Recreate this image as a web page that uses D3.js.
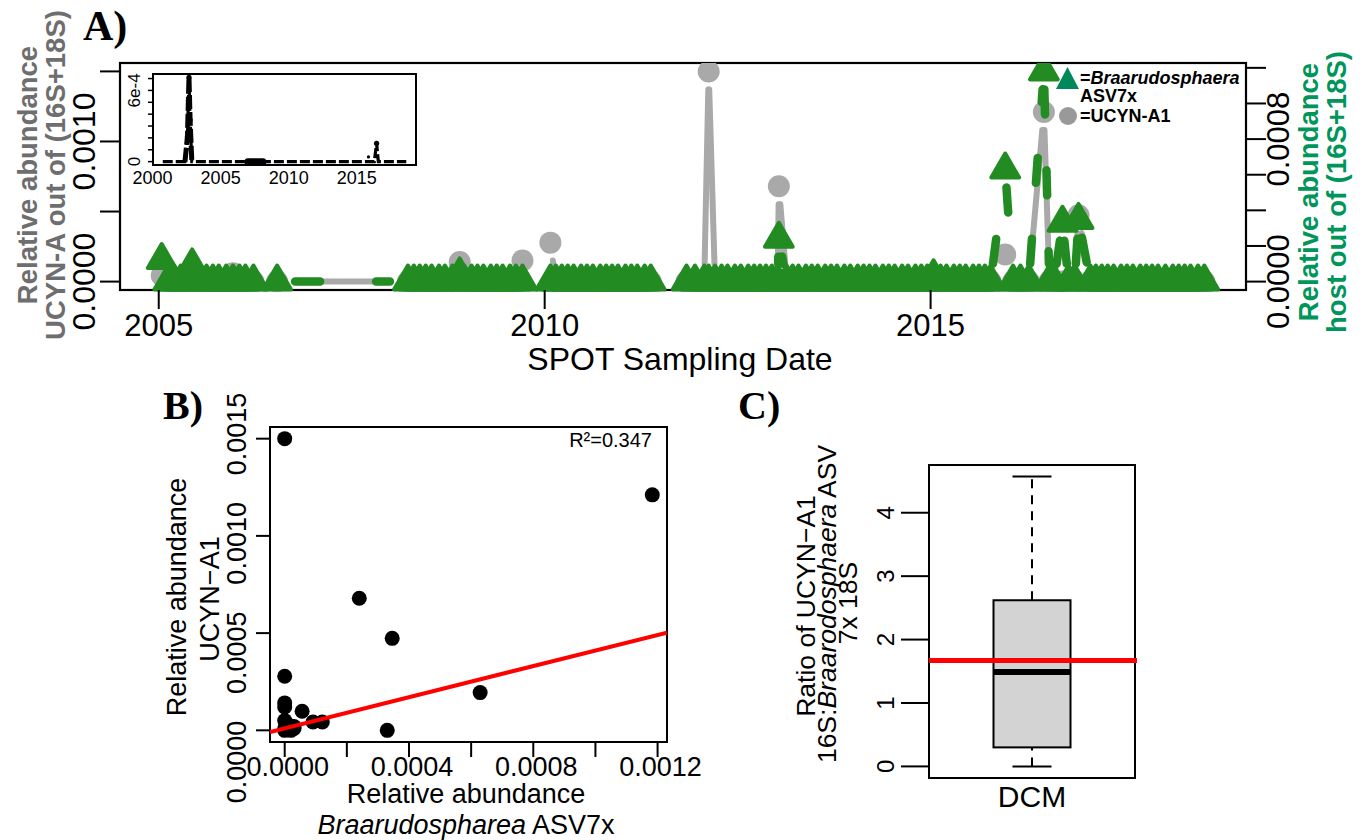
<!DOCTYPE html>
<html>
<head>
<meta charset="utf-8">
<script src="https://cdn.jsdelivr.net/npm/d3@7"></script>
<style>
  body { margin: 0; background: #fff; }
  text { font-family: "Liberation Sans", Arial, sans-serif; }
</style>
</head>
<body>
<svg id="fig" width="1365" height="840"></svg>
<script>
// ---------- Panel A: SPOT time series ----------
const sampleDates = [
  "2005-01-15","2005-02-15","2005-03-15","2005-04-15","2005-05-12","2005-06-08","2005-07-13","2005-08-15","2005-09-14","2005-10-12","2005-11-16","2005-12-18",
  "2006-01-18","2006-02-15","2006-03-25","2006-07-15",
  "2008-03-25","2008-04-22","2008-05-20","2008-06-17","2008-07-15","2008-08-19","2008-09-16","2008-10-21","2008-11-25","2008-12-16",
  "2009-01-20","2009-02-17","2009-03-17","2009-04-21","2009-05-19","2009-06-16","2009-07-21","2009-08-18","2009-09-18",
  "2010-01-28","2010-02-23","2010-03-23","2010-04-20","2010-05-18","2010-06-22","2010-07-20","2010-08-17","2010-09-21","2010-10-19","2010-11-16","2010-12-14",
  "2011-01-18","2011-02-15","2011-03-15","2011-04-19","2011-05-18","2011-11-03","2011-12-13",
  "2012-01-26","2012-02-16","2012-03-17","2012-04-17","2012-05-15","2012-06-19","2012-07-17","2012-08-21","2012-09-18","2012-10-16","2012-11-13","2012-12-11",
  "2013-01-07","2013-01-13","2013-02-19","2013-03-19","2013-04-16","2013-05-21","2013-06-18","2013-07-16","2013-08-20","2013-09-17","2013-10-15","2013-11-19","2013-12-17",
  "2014-01-21","2014-02-18","2014-03-18","2014-04-15","2014-05-20","2014-06-17","2014-07-15","2014-08-19","2014-09-16","2014-10-21","2014-11-18","2014-12-16",
  "2015-01-15","2015-02-17","2015-03-17","2015-04-21","2015-05-19","2015-06-16","2015-07-21","2015-08-18","2015-09-15","2015-10-12","2015-12-20",
  "2016-01-26","2016-03-01","2016-04-10","2016-06-20","2016-07-16","2016-08-07","2016-09-16","2016-10-15","2016-11-13","2016-12-01",
  "2017-01-26","2017-02-21","2017-03-21","2017-04-18","2017-05-16","2017-06-20","2017-07-18","2017-08-15","2017-09-19","2017-10-17","2017-11-14","2017-12-12",
  "2018-01-16","2018-02-20","2018-03-20","2018-04-17","2018-05-15","2018-06-19","2018-07-19"
]
// UCYN-A1 relative abundance (left axis)
const ucynA1 = [
  4.3e-5,0,0,0,0,4.3e-5,0,0,0,0,0,6e-5,
  0,0,0,0,
  0,0,0,0,0,0,0,0,1.4e-4,0,
  0,0,0,0,0,0,0,0,1.5e-4,
  2.78e-4,0,0,0,0,0,0,0,0,0,0,0,
  0,0,0,0,0,0,0,
  0,1.5e-3,0,0,0,0,0,0,0,0,0,0,
  0,6.8e-4,0,0,0,0,0,0,0,0,0,0,0,
  0,0,0,0,0,0,0,0,0,0,0,0,
  0,0,0,0,0,0,0,0,0,0,1.94e-4,
  0,0,0,1.21e-3,0,0,0,0,0,4.73e-4,
  0,0,0,0,0,0,0,0,0,0,0,0,
  0,0,0,0,0,0,0
]
// Braarudosphaera ASV7x relative abundance (right axis)
const braaru = [
  1.21e-4,0,0,0,0,9.1e-5,0,0,0,0,0,0,
  0,0,0,0,
  0,0,0,0,0,0,0,0,4e-5,0,
  0,0,0,0,0,0,0,0,0,
  0,0,0,0,0,0,0,0,0,0,0,0,
  0,0,0,0,0,0,0,
  0,0,0,0,0,0,0,0,0,0,0,0,
  0,2.4e-4,0,0,0,0,0,0,0,0,0,0,0,
  0,0,0,0,0,0,0,0,0,0,0,0,
  3e-5,0,0,0,0,0,0,0,0,0,6.29e-4,
  0,0,0,1.18e-3,0,0,3.3e-4,0,0,3.46e-4,
  0,0,0,0,0,0,0,0,0,0,0,0,
  0,0,0,0,0,0,0
]
const yearTicks = [2005, 2010, 2015]

// inset: longer record
const insetDates = ["2000-10-01","2002-05-20","2002-07-25","2002-09-05","2002-10-05","2002-11-20",
  "2007-01-01","2007-02-10","2007-03-20","2007-05-01","2007-06-10","2007-07-20","2007-09-01","2007-10-10","2007-11-20","2008-01-01","2008-02-10",
  "2016-04-15","2016-06-15","2016-08-01","2018-08-20"]
const insetValues = [0,0,2.1e-4,7.1e-4,3.5e-4,0,
  0,0,0,0,0,0,0,0,0,0,0,
  0,1.55e-4,0,0]
const insetDense = ["2007-01-01","2008-02-10"]
const insetLone = ["2015-11-10", 4e-5]
const insetYearLabels = [2000, 2005, 2010, 2015]

// ---------- Panel B: scatter ----------
const scatterBraaru = [0, 1.183e-3, 2.4e-4, 3.46e-4, 6.29e-4, 3.3e-4, 0, 0, 0, 5.6e-5, 9.1e-5, 1.21e-4,
  0, 1e-5, 3e-5, 5e-6, 0, 2e-5, 3e-5, 0]
const scatterUcyn = [1.5e-3, 1.211e-3, 6.79e-4, 4.73e-4, 1.94e-4, 0, 2.78e-4, 1.41e-4, 1.2e-4, 9.8e-5, 4.3e-5, 4.3e-5,
  5e-5, 3e-5, 1e-5, 2e-5, 0, 0, 2e-5, 1e-5]
const fitIntercept = 1.06e-5, fitSlope = 0.40
const rSquared = "0.347"

// ---------- Panel C: boxplot ----------
const ratioStats = [0, 0.30, 1.49, 2.62, 4.57]   // whisker low, Q1, median, Q3, whisker high
const ratioRef = 1.67
const ratioGroup = "DCM"

const svg = d3.select("#fig")
const parse = d3.timeParse("%Y-%m-%d")
const gray = "#a9a9a9", green = "#228b22", hostGreen = "#00955a"
const serif = '"Liberation Serif", "Times New Roman", serif'

function pad(lo, hi) { const e = (hi - lo) * 0.04; return [lo - e, hi + e] }

function vtext(g, x, y, size) {
  return g.append("text")
    .attr("transform", `translate(${x},${y}) rotate(-90)`)
    .attr("text-anchor", "middle")
    .attr("dy", "0.35em")
    .attr("font-size", size)
}

function gapped(pts, gap) {
  const segs = []
  for (let i = 1; i < pts.length; i++) {
    const a = pts[i - 1], b = pts[i]
    if (!a || !b) continue
    const len = Math.hypot(b[0] - a[0], b[1] - a[1])
    if (len <= 2 * gap) continue
    const ux = (b[0] - a[0]) / len, uy = (b[1] - a[1]) / len
    segs.push([a[0] + ux * gap, a[1] + uy * gap, b[0] - ux * gap, b[1] - uy * gap])
  }
  return segs
}

// ================= Panel A =================
const A = { left: 120, right: 1246, top: 63, bottom: 290 }
const dates = sampleDates.map(parse)
const x = d3.scaleTime().domain(pad(+dates[0], +dates[dates.length - 1]).map(t => new Date(t))).range([A.left, A.right])
const yU = d3.scaleLinear().domain(pad(0, d3.max(ucynA1))).range([A.bottom, A.top])
const yB = d3.scaleLinear().domain(pad(0, d3.max(braaru))).range([A.bottom, A.top])

svg.append("clipPath").attr("id", "clipA").append("rect")
  .attr("x", A.left).attr("y", A.top).attr("width", A.right - A.left).attr("height", A.bottom - A.top + 2)

const gA = svg.append("g")
gA.append("rect").attr("x", A.left).attr("y", A.top).attr("width", A.right - A.left).attr("height", A.bottom - A.top)
  .attr("fill", "none").attr("stroke", "#000").attr("stroke-width", 2.2)

const marks = gA.append("g").attr("clip-path", "url(#clipA)")
const ptsU = dates.map((d, i) => ucynA1[i] == null ? null : [x(d), yU(ucynA1[i])])
const ptsB = dates.map((d, i) => braaru[i] == null ? null : [x(d), yB(braaru[i])])

marks.append("g").selectAll("line").data(gapped(ptsU, 18)).join("line")
  .attr("x1", d => d[0]).attr("y1", d => d[1]).attr("x2", d => d[2]).attr("y2", d => d[3])
  .attr("stroke", gray).attr("stroke-width", 6).attr("stroke-linecap", "round")
marks.append("g").selectAll("circle").data(ptsU.filter(p => p)).join("circle")
  .attr("cx", d => d[0]).attr("cy", d => d[1]).attr("r", 11).attr("fill", gray)

marks.append("g").selectAll("line").data(gapped(ptsB, 18)).join("line")
  .attr("x1", d => d[0]).attr("y1", d => d[1]).attr("x2", d => d[2]).attr("y2", d => d[3])
  .attr("stroke", green).attr("stroke-width", 8.5).attr("stroke-linecap", "round")
  .attr("stroke-dasharray", "25,56")
marks.append("g").selectAll("path").data(ptsB.filter(p => p)).join("path")
  .attr("transform", d => `translate(${d[0]},${d[1]})`)
  .attr("d", "M0,-16L13.9,8L-13.9,8Z")
  .attr("fill", green).attr("stroke", green).attr("stroke-width", 4).attr("stroke-linejoin", "round")

// left axis
const axL = gA.append("g")
axL.selectAll("line").data([0, 0.0005, 0.001, 0.0015]).join("line")
  .attr("x1", A.left - 20).attr("x2", A.left).attr("y1", d => yU(d)).attr("y2", d => yU(d))
  .attr("stroke", "#000").attr("stroke-width", 2)
;[0, 0.001].forEach(v => vtext(axL, 84, yU(v), 32).text(d3.format(".4f")(v)))
// right axis
const axR = gA.append("g")
axR.selectAll("line").data(d3.range(0, 0.00121, 0.0002)).join("line")
  .attr("x1", A.right).attr("x2", A.right + 20).attr("y1", d => yB(d)).attr("y2", d => yB(d))
  .attr("stroke", "#000").attr("stroke-width", 2)
;[0, 0.0008].forEach(v => vtext(axR, 1278, yB(v), 31).text(d3.format(".4f")(v)))
// bottom axis
const axX = gA.append("g")
axX.selectAll("line").data(yearTicks).join("line")
  .attr("x1", d => x(new Date(d, 0, 1))).attr("x2", d => x(new Date(d, 0, 1)))
  .attr("y1", A.bottom).attr("y2", A.bottom + 19).attr("stroke", "#000").attr("stroke-width", 2)
axX.selectAll("text").data(yearTicks).join("text")
  .attr("x", d => x(new Date(d, 0, 1))).attr("y", 336).attr("text-anchor", "middle")
  .attr("font-size", 31).text(d => d)
gA.append("text").attr("x", (A.left + A.right) / 2 - 3).attr("y", 370).attr("text-anchor", "middle")
  .attr("font-size", 32).text("SPOT Sampling Date")

// axis titles
vtext(gA, 27, 175, 27.5).attr("font-weight", "bold").attr("fill", "#6e6e6e").text("Relative abundance")
vtext(gA, 55, 175, 27.5).attr("font-weight", "bold").attr("fill", "#6e6e6e").text("UCYN-A out of (16S+18S)")
vtext(gA, 1308, 192, 27.5).attr("font-weight", "bold").attr("fill", hostGreen).text("Relative abundance")
vtext(gA, 1336, 192, 27.5).attr("font-weight", "bold").attr("fill", hostGreen).text("host out of (16S+18S)")

gA.append("text").attr("x", 83).attr("y", 40).style("font-family", serif).attr("font-weight", "bold")
  .attr("font-size", 42).text("A)")

// legend
const lg = gA.append("g").attr("font-weight", "bold").attr("font-size", 18)
lg.append("path").attr("transform", "translate(1067.5,80)").attr("d", "M0,-13L11.5,9L-11.5,9Z").attr("fill", "#00875a")
const l1 = lg.append("text").attr("x", 1080).attr("y", 84)
l1.append("tspan").text("=")
l1.append("tspan").attr("font-style", "italic").text("Braarudosphaera")
lg.append("text").attr("x", 1080).attr("y", 102).text("ASV7x")
lg.append("circle").attr("cx", 1068).attr("cy", 116).attr("r", 9).attr("fill", "#999")
lg.append("text").attr("x", 1080).attr("y", 122).text("=UCYN-A1")

// inset
const I = { left: 153, right: 416, top: 74, bottom: 165 }
const iDates = insetDates.map(parse)
const xi = d3.scaleTime().domain(pad(+iDates[0], +iDates[iDates.length - 1]).map(t => new Date(t))).range([I.left, I.right])
const yi = d3.scaleLinear().domain(pad(0, d3.max(insetValues))).range([I.bottom, I.top])
const gI = gA.append("g")
gI.append("rect").attr("x", I.left).attr("y", I.top).attr("width", I.right - I.left).attr("height", I.bottom - I.top)
  .attr("fill", "#fff").attr("stroke", "#000").attr("stroke-width", 2)
gI.append("path").datum(iDates.map((d, i) => [xi(d), yi(insetValues[i])]))
  .attr("d", d3.line()).attr("fill", "none").attr("stroke", "#000").attr("stroke-width", 3.2)
  .attr("stroke-dasharray", "10,3")
gI.append("g").selectAll("circle").data(iDates.filter((d, i) => insetValues[i] > 0)).join("circle")
  .attr("cx", d => xi(d)).attr("cy", d => yi(insetValues[iDates.indexOf(d)])).attr("r", 2.6)
gI.append("path").datum(iDates.slice(1, 6).map((d, i) => [xi(d), yi(insetValues[i + 1])]))
  .attr("d", d3.line()).attr("fill", "none").attr("stroke", "#000").attr("stroke-width", 5)
  .attr("stroke-dasharray", "14,3")
gI.append("line").attr("x1", xi(parse(insetDense[0]))).attr("x2", xi(parse(insetDense[1])))
  .attr("y1", yi(0)).attr("y2", yi(0)).attr("stroke", "#000").attr("stroke-width", 7).attr("stroke-linecap", "round")
gI.append("circle").attr("cx", xi(parse(insetLone[0]))).attr("cy", yi(insetLone[1])).attr("r", 1.6)
gI.selectAll(".tk").data(d3.range(0, 0.00071, 0.0001)).join("line")
  .attr("x1", I.left - 5).attr("x2", I.left).attr("y1", d => yi(d)).attr("y2", d => yi(d))
  .attr("stroke", "#000").attr("stroke-width", 1.5)
vtext(gI, 134, yi(0), 17).text("0")
vtext(gI, 134, yi(0.0006), 17).text("6e-4")
gI.selectAll(".yl").data(insetYearLabels).join("text")
  .attr("x", d => xi(new Date(d, 0, 1))).attr("y", 184).attr("text-anchor", "middle")
  .attr("font-size", 18).text(d => d)

// ================= Panel B =================
const B = { left: 270, right: 667, top: 427, bottom: 742 }
const xs = d3.scaleLinear().domain(pad(0, d3.max(scatterBraaru))).range([B.left, B.right])
const ys = d3.scaleLinear().domain(pad(0, d3.max(scatterUcyn))).range([B.bottom, B.top])
const ysLab = d3.scaleLinear().domain([0, 0.0015]).range([762, 434])
const gB = svg.append("g")
gB.append("rect").attr("x", B.left).attr("y", B.top).attr("width", B.right - B.left).attr("height", B.bottom - B.top)
  .attr("fill", "none").attr("stroke", "#000").attr("stroke-width", 2)
svg.append("clipPath").attr("id", "clipB").append("rect")
  .attr("x", B.left).attr("y", B.top).attr("width", B.right - B.left).attr("height", B.bottom - B.top)
gB.append("g").selectAll("circle").data(scatterBraaru).join("circle")
  .attr("cx", d => xs(d)).attr("cy", (d, i) => ys(scatterUcyn[i])).attr("r", 7.5).attr("fill", "#000")
const xd = xs.domain()
gB.append("line").attr("clip-path", "url(#clipB)")
  .attr("x1", xs(xd[0])).attr("y1", ys(fitIntercept + fitSlope * xd[0]))
  .attr("x2", xs(xd[1])).attr("y2", ys(fitIntercept + fitSlope * xd[1]))
  .attr("stroke", "#ff0000").attr("stroke-width", 4)
gB.selectAll(".xt").data(d3.range(0, 0.00121, 0.0002)).join("line")
  .attr("x1", d => xs(d)).attr("x2", d => xs(d)).attr("y1", B.bottom).attr("y2", B.bottom + 15)
  .attr("stroke", "#000").attr("stroke-width", 2)
gB.selectAll(".xl").data([0, 0.0004, 0.0008, 0.0012]).join("text")
  .attr("x", d => xs(d) + 3).attr("y", 776).attr("text-anchor", "middle").attr("font-size", 27)
  .text(d => d3.format(".4f")(d))
gB.selectAll(".yt").data([0, 0.0005, 0.001, 0.0015]).join("line")
  .attr("x1", B.left - 14).attr("x2", B.left).attr("y1", d => ys(d)).attr("y2", d => ys(d))
  .attr("stroke", "#000").attr("stroke-width", 2)
;[0, 0.0005, 0.001, 0.0015].forEach(v => vtext(gB, 237, ysLab(v), 27).text(d3.format(".4f")(v)))
gB.append("text").attr("x", 652).attr("y", 447).attr("text-anchor", "end").attr("font-size", 20).text("R²=" + rSquared)
vtext(gB, 177, 597, 27).text("Relative abundance")
vtext(gB, 210, 599, 27).text("UCYN\u2212A1")
gB.append("text").attr("x", 466).attr("y", 803).attr("text-anchor", "middle").attr("font-size", 27).text("Relative abundance")
const bx = gB.append("text").attr("x", 466).attr("y", 834).attr("text-anchor", "middle").attr("font-size", 27)
bx.append("tspan").attr("font-style", "italic").text("Braarudospharea")
bx.append("tspan").text(" ASV7x")
gB.append("text").attr("x", 163).attr("y", 419).style("font-family", serif).attr("font-weight", "bold")
  .attr("font-size", 40).text("B)")

// ================= Panel C =================
const C = { left: 929, right: 1135, top: 465, bottom: 778 }
const yc = d3.scaleLinear().domain(pad(0, ratioStats[4])).range([C.bottom, C.top])
const xc = d3.scaleBand().domain([ratioGroup]).range([C.left, C.right])
const cx = xc(ratioGroup) + xc.bandwidth() / 2
const gC = svg.append("g")
gC.append("rect").attr("x", C.left).attr("y", C.top).attr("width", C.right - C.left).attr("height", C.bottom - C.top)
  .attr("fill", "none").attr("stroke", "#000").attr("stroke-width", 2)
gC.append("line").attr("x1", cx).attr("x2", cx).attr("y1", yc(ratioStats[3])).attr("y2", yc(ratioStats[4]))
  .attr("stroke", "#000").attr("stroke-width", 2).attr("stroke-dasharray", "9,7")
gC.append("line").attr("x1", cx).attr("x2", cx).attr("y1", yc(ratioStats[0])).attr("y2", yc(ratioStats[1]))
  .attr("stroke", "#000").attr("stroke-width", 2).attr("stroke-dasharray", "9,7")
;[ratioStats[0], ratioStats[4]].forEach(v => gC.append("line").attr("x1", cx - 19.5).attr("x2", cx + 19.5)
  .attr("y1", yc(v)).attr("y2", yc(v)).attr("stroke", "#000").attr("stroke-width", 2))
gC.append("rect").attr("x", cx - 38.5).attr("width", 77).attr("y", yc(ratioStats[3]))
  .attr("height", yc(ratioStats[1]) - yc(ratioStats[3])).attr("fill", "#d3d3d3").attr("stroke", "#000").attr("stroke-width", 2)
gC.append("line").attr("x1", cx - 38.5).attr("x2", cx + 38.5).attr("y1", yc(ratioStats[2])).attr("y2", yc(ratioStats[2]))
  .attr("stroke", "#000").attr("stroke-width", 6)
gC.append("line").attr("x1", C.left).attr("x2", C.right + 2).attr("y1", yc(ratioRef)).attr("y2", yc(ratioRef))
  .attr("stroke", "#ff0000").attr("stroke-width", 5)
gC.selectAll(".yt").data(d3.range(0, 5)).join("line")
  .attr("x1", C.left - 28).attr("x2", C.left).attr("y1", d => yc(d)).attr("y2", d => yc(d))
  .attr("stroke", "#000").attr("stroke-width", 2)
d3.range(0, 5).forEach(v => vtext(gC, 886, yc(v), 24).text(v))
gC.append("text").attr("x", cx).attr("y", 807).attr("text-anchor", "middle").attr("font-size", 30).text(ratioGroup)
vtext(gC, 806, 606, 26.5).text("Ratio of UCYN\u2212A1")
const c2 = vtext(gC, 827, 604, 26.5)
c2.append("tspan").text("16S:")
c2.append("tspan").attr("font-style", "italic").text("Braarodosphaera")
c2.append("tspan").text(" ASV")
vtext(gC, 848, 603, 26.5).text("7x 18S")
gC.append("text").attr("x", 738).attr("y", 419).style("font-family", serif).attr("font-weight", "bold")
  .attr("font-size", 40).text("C)")
</script>
</body>
</html>
